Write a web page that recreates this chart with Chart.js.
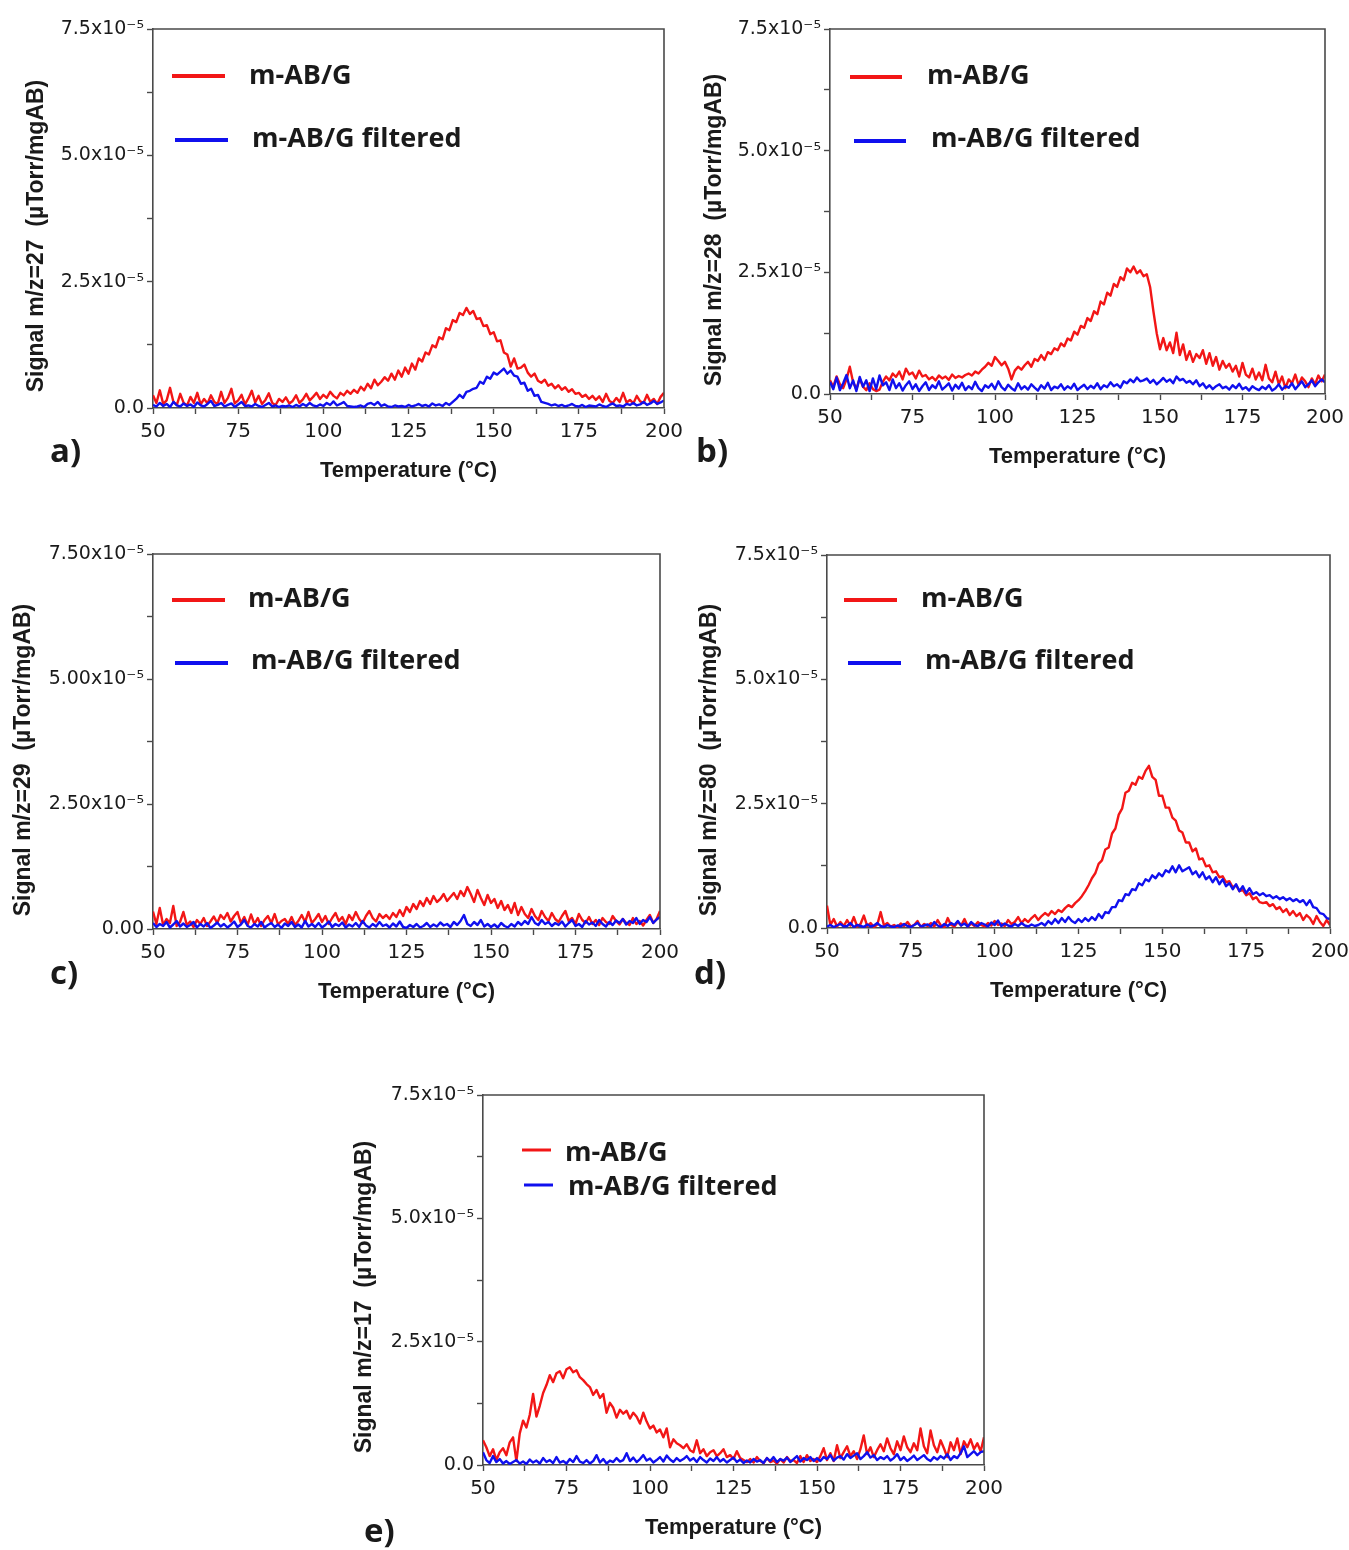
<!DOCTYPE html>
<html>
<head>
<meta charset="utf-8">
<title>TPD-MS signals of m-AB/G</title>
<script src="https://cdn.jsdelivr.net/npm/chart.js@4.4.1/dist/chart.umd.min.js"></script>
<style>
  html, body { margin: 0; padding: 0; background: #fff; overflow: hidden; }
  #page { position: relative; width: 1349px; height: 1550px; overflow: hidden; background: #fff; }
  #page canvas { position: absolute; }
</style>
</head>
<body>
<div id="page">
  <canvas id="panel-a"></canvas>
  <canvas id="panel-b"></canvas>
  <canvas id="panel-c"></canvas>
  <canvas id="panel-d"></canvas>
  <canvas id="panel-e"></canvas>
</div>
<script>
// Temperature grid (°C)
const tempC = [
  50,51,52,53,54,55,56,57,58,59,
  60,61,62,63,64,65,66,67,68,69,
  70,71,72,73,74,75,76,77,78,79,
  80,81,82,83,84,85,86,87,88,89,
  90,91,92,93,94,95,96,97,98,99,
  100,101,102,103,104,105,106,107,108,109,
  110,111,112,113,114,115,116,117,118,119,
  120,121,122,123,124,125,126,127,128,129,
  130,131,132,133,134,135,136,137,138,139,
  140,141,142,143,144,145,146,147,148,149,
  150,151,152,153,154,155,156,157,158,159,
  160,161,162,163,164,165,166,167,168,169,
  170,171,172,173,174,175,176,177,178,179,
  180,181,182,183,184,185,186,187,188,189,
  190,191,192,193,194,195,196,197,198,199,
  200
];

// Signals in units of 1e-6 µTorr/mgAB

// m/z = 27
const mz27Raw = [
  2.5,1.0,3.5,0.8,1.5,4.0,1.2,0.6,2.8,1.0,
  0.5,2.2,1.0,3.0,0.7,1.8,0.9,2.5,1.2,0.8,
  3.2,1.0,2.0,3.8,0.9,1.5,2.6,0.7,1.9,3.4,
  1.1,2.4,0.8,1.6,2.9,1.0,0.6,1.8,1.2,2.1,
  0.9,1.4,2.5,1.0,1.7,2.8,1.5,2.2,3.0,1.8,
  2.6,2.0,3.2,2.4,1.9,3.0,2.5,3.4,2.8,3.6,
  3.0,4.2,3.5,4.8,3.9,5.6,4.5,5.2,6.1,5.4,
  6.8,5.6,7.4,6.2,8.0,6.8,8.8,7.6,9.8,9.2,
  11.0,10.6,12.4,12.0,14.0,13.6,15.8,15.4,17.4,17.0,
  18.8,18.4,19.8,18.6,19.2,17.6,17.8,16.2,16.4,14.6,
  15.0,13.2,13.4,11.0,10.6,8.2,9.8,7.8,8.0,8.6,
  7.0,6.2,6.8,5.4,5.0,5.6,4.4,4.8,3.9,4.5,
  3.6,4.1,3.2,3.7,2.8,3.0,2.2,2.6,1.8,2.4,
  1.6,2.3,1.2,2.8,1.4,1.0,2.0,1.2,3.0,1.1,
  1.6,0.9,2.4,1.3,1.0,2.6,1.2,1.8,0.8,2.2,
  3.0
];
const mz27Filtered = [
  0.6,0.3,1.0,0.4,0.8,0.2,1.2,0.5,0.3,0.9,
  0.4,0.7,0.2,1.1,0.5,0.3,0.8,1.4,0.4,0.6,
  1.0,0.3,0.6,0.9,0.2,0.7,1.2,0.4,0.5,0.3,
  0.8,0.4,0.2,0.6,1.0,0.3,0.5,0.2,0.4,0.3,
  0.5,0.2,0.6,0.3,0.8,0.4,1.0,0.5,0.3,0.7,
  0.4,1.0,0.6,1.3,0.5,0.8,1.2,0.4,0.3,0.2,
  0.3,0.5,0.2,0.8,1.0,0.6,1.2,0.4,0.7,0.3,
  0.2,0.5,0.3,0.4,0.2,0.6,0.3,0.5,0.8,0.4,
  0.6,0.3,0.9,0.5,0.7,0.4,1.0,0.6,1.2,1.8,
  2.6,2.0,3.2,3.4,3.8,4.0,5.2,4.8,6.2,5.8,
  7.0,6.6,7.2,7.8,6.8,7.4,6.4,6.2,4.8,5.0,
  3.4,3.8,2.4,2.6,1.2,1.0,0.8,0.5,0.7,0.4,
  0.6,0.3,0.5,0.8,0.4,0.3,0.6,0.2,0.5,0.4,
  0.3,0.7,0.4,0.2,0.6,0.9,0.4,0.5,0.3,0.8,
  0.6,1.0,0.5,0.7,1.2,0.6,0.9,1.4,0.8,1.1,
  1.5
];

// m/z = 28
const mz28Raw = [
  2.8,1.5,3.6,2.0,1.2,3.0,5.6,2.4,1.0,3.2,
  1.5,0.8,2.2,1.0,0.6,0.9,2.5,3.6,2.8,4.2,
  3.5,4.6,3.0,5.2,4.0,4.4,3.2,4.8,3.6,3.9,
  3.0,3.5,2.8,3.8,3.2,3.6,2.9,4.0,3.3,3.7,
  3.4,3.9,4.2,3.8,4.6,4.2,5.0,5.6,6.4,5.8,
  7.6,6.8,5.9,6.6,5.2,3.0,4.8,5.6,5.0,5.9,
  6.6,5.6,7.2,6.8,8.0,7.0,8.6,8.2,9.4,9.0,
  10.4,9.8,11.4,11.0,12.8,12.2,14.0,13.6,15.6,15.0,
  17.0,16.4,19.0,18.4,20.8,20.2,22.6,22.0,24.0,23.4,
  25.8,25.0,26.2,24.8,25.4,24.2,24.6,22.0,17.0,12.5,
  9.2,11.5,9.0,10.6,8.4,12.6,8.0,10.2,7.0,8.8,
  6.6,8.2,7.4,9.0,6.2,8.4,5.8,7.6,5.0,6.8,
  5.4,6.2,4.6,5.8,3.6,6.4,4.0,3.4,5.2,3.0,
  4.4,2.8,6.0,3.2,2.4,4.6,2.0,3.6,1.2,3.0,
  2.2,4.0,1.8,3.4,2.6,1.4,3.2,2.0,3.8,2.6,
  4.0
];
const mz28Filtered = [
  2.5,1.0,3.4,0.8,2.2,3.9,1.2,2.8,0.6,3.5,
  1.5,2.8,0.6,3.2,1.0,3.8,1.8,2.4,0.8,3.0,
  1.2,2.2,0.7,1.8,2.6,1.0,2.0,0.6,1.6,2.4,
  0.8,1.8,1.2,2.6,0.9,1.5,2.2,0.7,1.9,1.1,
  2.3,0.8,1.6,1.0,2.5,1.2,0.6,1.8,1.3,2.1,
  1.0,2.6,1.4,0.8,1.9,1.2,0.7,2.2,1.0,1.6,
  0.9,2.0,1.3,0.7,1.8,1.1,2.3,0.8,1.5,1.2,
  2.0,0.9,1.6,1.1,2.1,0.8,1.4,1.9,1.0,1.7,
  1.2,2.2,1.0,1.8,1.4,2.4,1.6,2.0,1.3,2.6,
  2.2,3.0,2.4,3.4,2.6,2.8,3.2,2.3,2.9,2.0,
  2.6,3.3,2.5,3.0,2.2,3.6,2.8,3.1,2.3,2.7,
  2.0,2.8,1.6,2.2,1.2,1.8,1.0,1.6,2.0,1.2,
  1.5,0.9,1.8,1.2,2.1,1.0,1.4,0.7,1.6,1.1,
  0.8,1.5,1.0,1.8,0.7,1.2,2.0,0.9,1.6,1.3,
  2.2,1.0,1.8,2.6,1.4,2.0,2.8,1.6,2.4,3.0,
  2.4
];

// m/z = 29
const mz29Raw = [
  3.5,1.0,4.2,0.8,2.0,1.2,4.6,0.6,1.4,3.4,
  0.8,1.5,0.4,1.8,1.0,2.2,0.6,1.5,2.5,1.2,
  2.8,2.0,3.2,1.5,2.6,3.4,1.2,2.4,0.8,2.9,
  1.0,2.2,0.6,1.8,2.6,1.2,3.0,0.9,1.6,2.0,
  1.0,2.4,0.8,1.6,2.8,1.4,3.4,1.2,2.0,3.0,
  1.4,2.6,1.0,2.2,3.2,1.6,2.4,1.0,2.8,1.8,
  3.4,2.0,1.2,2.6,3.6,2.2,1.5,3.0,2.2,2.8,
  2.0,3.2,2.4,3.8,2.6,4.4,3.4,5.0,4.0,5.6,
  4.6,6.2,5.0,6.6,5.4,6.0,7.0,5.6,6.4,7.2,
  6.0,7.6,6.6,8.4,7.0,5.4,7.8,6.2,4.8,6.8,
  5.2,6.0,4.2,5.6,3.8,4.8,3.2,5.2,2.8,4.4,
  3.0,2.2,4.0,2.6,1.8,3.6,2.4,1.6,3.2,2.0,
  1.4,2.6,3.6,1.6,2.2,1.0,3.0,1.8,1.2,2.4,
  1.0,1.8,0.8,2.2,1.4,1.0,2.6,1.6,0.9,2.0,
  1.2,0.8,2.2,1.0,1.6,0.7,1.8,2.8,1.2,2.0,
  3.6
];
const mz29Filtered = [
  1.2,0.4,1.0,0.6,1.4,0.3,0.9,1.6,0.5,1.1,
  0.4,0.8,1.4,0.3,1.0,0.5,1.2,0.2,0.7,1.3,
  0.5,1.0,0.3,0.8,1.5,0.4,0.9,1.8,0.6,0.3,
  1.0,0.5,1.4,0.3,0.8,1.2,0.4,0.9,0.2,1.1,
  0.6,1.4,0.4,0.9,0.3,1.6,0.5,1.0,0.4,1.2,
  0.3,0.8,1.5,0.4,1.0,0.6,1.3,0.3,0.9,0.5,
  1.2,0.4,1.6,0.7,0.3,1.0,0.5,1.4,0.6,0.9,
  0.3,1.1,0.5,1.5,0.4,0.2,0.8,0.4,1.0,0.3,
  0.6,1.2,0.4,0.9,0.5,1.3,0.7,1.0,0.4,1.4,
  0.8,1.6,2.8,1.0,0.6,1.4,0.8,1.8,0.5,1.0,
  0.4,0.9,0.3,1.2,0.6,0.3,1.0,0.5,1.4,0.8,
  1.6,1.0,2.4,1.2,0.8,1.8,1.0,1.4,0.6,1.2,
  0.8,1.5,0.5,1.2,1.8,0.6,1.0,0.4,1.6,0.9,
  1.3,0.6,1.8,1.0,0.5,1.4,0.8,1.7,1.2,2.0,
  0.9,1.6,1.2,2.2,1.0,1.8,1.4,2.4,1.2,1.9,
  2.4
];

// m/z = 80
const mz80Raw = [
  4.5,0.6,1.8,0.3,1.2,0.4,1.6,0.5,2.2,0.3,
  0.8,2.5,0.4,1.0,0.2,0.7,3.2,0.5,1.0,0.3,
  0.6,0.2,0.9,0.4,1.2,0.3,0.6,1.4,0.2,0.8,
  0.4,1.0,0.3,1.6,0.5,0.2,2.0,0.6,0.3,1.2,
  0.5,1.8,0.3,0.9,0.4,1.2,0.6,0.3,1.0,0.5,
  1.4,0.6,0.9,0.4,1.6,0.8,1.2,2.2,1.0,1.8,
  1.2,2.0,2.6,1.6,2.4,3.0,2.5,3.4,2.8,3.6,
  3.2,4.0,4.6,4.2,5.0,5.6,6.4,7.4,8.6,10.0,
  11.0,12.9,13.6,15.8,16.2,19.0,20.0,22.8,24.0,27.2,
  27.6,29.2,28.8,30.4,30.0,31.6,32.6,30.4,29.8,26.6,
  26.6,24.2,24.2,22.2,21.6,19.6,19.2,17.2,17.2,15.4,
  16.0,13.8,14.0,12.4,12.6,11.2,11.4,10.2,10.4,9.2,
  9.4,8.2,8.6,7.4,7.6,6.6,7.0,5.8,6.2,5.2,
  5.0,5.2,4.4,4.8,3.8,4.2,3.2,3.8,2.6,3.4,
  2.4,3.0,1.6,2.6,2.0,0.8,2.4,1.2,0.4,1.6,
  0.6
];
const mz80Filtered = [
  0.3,0.6,0.2,0.5,0.8,0.3,0.4,1.0,0.2,0.6,
  0.4,0.2,0.7,0.3,0.5,1.0,0.4,0.2,0.6,0.3,
  0.2,0.5,0.3,0.8,0.4,0.2,0.6,1.0,0.3,0.5,
  0.7,0.3,1.2,0.5,0.2,0.8,0.4,1.0,0.6,1.4,
  0.5,0.9,0.3,1.2,0.6,0.4,1.0,0.7,0.3,1.1,
  0.6,1.5,0.4,0.9,0.5,0.3,0.8,0.4,1.0,0.5,
  0.3,0.7,0.4,0.6,1.0,0.5,1.4,0.8,1.8,1.0,
  2.0,1.2,2.2,1.4,1.0,1.8,1.2,2.0,1.4,2.2,
  1.6,2.8,2.0,3.2,3.0,4.2,4.2,5.6,5.4,6.8,
  6.6,7.8,7.6,9.0,8.6,9.8,9.4,10.6,10.0,11.0,
  10.4,11.6,11.2,12.4,11.2,12.6,11.4,11.8,12.2,10.8,
  11.4,10.2,11.2,9.8,10.4,9.2,10.2,8.8,9.8,8.4,
  9.0,7.8,8.8,7.4,8.4,7.0,8.0,6.8,7.2,6.6,
  7.0,6.4,6.6,6.0,6.4,5.8,6.2,5.6,6.0,5.4,
  5.8,5.2,5.6,4.6,5.6,4.2,4.0,3.0,2.8,2.0,
  1.8
];

// m/z = 17
const mz17Raw = [
  5.0,3.6,1.8,3.2,1.0,2.6,3.4,2.0,4.6,5.6,
  0.8,6.4,9.0,7.6,10.2,14.4,9.8,12.0,14.6,16.2,
  18.2,16.8,18.6,19.0,17.6,19.4,19.8,18.8,19.2,17.8,
  17.2,16.4,15.8,14.2,15.2,13.6,14.4,10.6,12.6,11.6,
  9.6,11.2,10.4,11.0,9.4,10.6,9.8,8.4,10.6,8.8,
  7.4,8.0,6.6,7.2,5.6,7.4,3.6,5.2,4.4,4.0,
  3.4,4.2,3.0,2.6,5.0,2.4,3.2,1.8,2.6,3.0,
  1.8,2.4,3.2,1.6,2.0,1.2,2.8,1.4,1.0,0.6,
  1.2,0.5,1.6,0.8,0.4,1.4,0.6,0.9,0.3,1.2,
  0.5,1.6,0.8,1.0,0.4,1.8,0.6,2.0,0.8,1.2,
  0.6,1.8,3.4,1.0,2.4,0.8,4.0,1.4,2.6,3.8,
  1.8,2.8,1.2,3.2,6.0,2.2,3.6,1.6,3.0,4.2,
  2.8,5.4,3.4,2.2,4.8,3.0,5.8,3.6,2.6,4.4,
  3.0,7.4,3.8,2.4,7.0,4.0,2.6,5.0,3.4,1.6,
  4.6,3.0,5.4,2.2,4.8,3.6,5.2,3.2,4.4,2.8,
  5.6
];
const mz17Filtered = [
  2.6,1.0,0.4,1.8,0.6,1.2,0.3,0.8,0.2,0.6,
  1.0,0.3,0.7,0.2,1.1,0.5,0.9,0.3,1.4,0.6,
  1.0,0.4,1.6,0.5,0.8,0.3,1.2,0.6,1.8,0.7,
  0.4,1.0,0.3,0.8,2.0,0.5,1.2,0.3,0.9,0.6,
  1.4,0.7,1.0,2.4,0.8,1.5,0.6,1.2,2.0,0.9,
  1.3,0.5,1.0,1.6,0.7,1.9,1.1,0.6,1.4,0.8,
  1.2,1.8,0.9,1.4,0.6,1.6,1.0,0.5,1.3,0.8,
  1.6,0.7,1.2,0.5,1.0,1.5,0.6,1.1,0.4,0.9,
  0.5,1.2,0.7,1.0,0.4,1.4,0.8,1.6,0.6,1.2,
  0.9,1.5,0.6,1.2,1.8,0.7,1.4,1.0,1.6,0.8,
  1.4,0.8,1.6,1.2,2.0,0.9,1.5,1.8,1.1,2.2,
  1.4,1.9,2.4,1.2,1.8,2.6,1.5,2.0,1.0,1.6,
  1.2,1.8,0.9,1.4,2.2,1.0,1.6,0.8,1.3,1.9,
  1.0,1.5,2.0,1.2,0.8,1.6,1.1,1.8,1.3,2.2,
  1.0,1.8,1.4,2.4,3.8,1.6,2.2,2.8,2.0,2.6,
  2.8
];

const seriesNames = ['m-AB/G', 'm-AB/G filtered'];

// Axis ticks (y values in the same 1e-6 units as the signals)
const yTickValues = [0, 25, 50, 75];
const yTickLabels = ['0.0', '2.5x10\u207B\u2075', '5.0x10\u207B\u2075', '7.5x10\u207B\u2075'];
const yTickLabelsWide = ['0.00', '2.50x10\u207B\u2075', '5.00x10\u207B\u2075', '7.50x10\u207B\u2075'];
const xTickValues = [50, 75, 100, 125, 150, 175, 200];
const xTickLabels = ['50', '75', '100', '125', '150', '175', '200'];

const xTitle = 'Temperature (\u00B0C)';

const RED = '#f21616';
const BLUE = '#1010ee';
const AXIS = '#4a4a4a';
const TEXT = '#1a1a1a';

// Panel layout: canvas box, plot area, and decoration anchors (page coordinates)
const panels = [
  { id: 'panel-a', raw: mz27Raw, filt: mz27Filtered, yLabels: yTickLabels,
    yTitle: 'Signal m/z=27  (\u00B5Torr/mgAB)', letter: 'a)',
    box: { left: 0, top: 0, w: 690, h: 500 },
    area: { left: 153, right: 664, top: 29, bottom: 408 },
    xTitleY: 471, yTitlePos: [37, 236], letterPos: [50, 453],
    legend: [ { x1: 172, x2: 225, y: 76, tx: 249, ty: 84 },
              { x1: 175, x2: 228, y: 140, tx: 252, ty: 147 } ], legendLW: 4 },
  { id: 'panel-b', raw: mz28Raw, filt: mz28Filtered, yLabels: yTickLabels,
    yTitle: 'Signal m/z=28  (\u00B5Torr/mgAB)', letter: 'b)',
    box: { left: 690, top: 0, w: 680, h: 500 },
    area: { left: 830, right: 1325, top: 29, bottom: 394 },
    xTitleY: 457, yTitlePos: [715, 230], letterPos: [696, 453],
    legend: [ { x1: 850, x2: 902, y: 77, tx: 927, ty: 84 },
              { x1: 854, x2: 906, y: 141, tx: 931, ty: 147 } ], legendLW: 4 },
  { id: 'panel-c', raw: mz29Raw, filt: mz29Filtered, yLabels: yTickLabelsWide,
    yTitle: 'Signal m/z=29  (\u00B5Torr/mgAB)', letter: 'c)',
    box: { left: 0, top: 520, w: 690, h: 500 },
    area: { left: 153, right: 660, top: 554, bottom: 929 },
    xTitleY: 992, yTitlePos: [24, 760], letterPos: [50, 975],
    legend: [ { x1: 172, x2: 225, y: 600, tx: 248, ty: 607 },
              { x1: 175, x2: 228, y: 663, tx: 251, ty: 669 } ], legendLW: 4 },
  { id: 'panel-d', raw: mz80Raw, filt: mz80Filtered, yLabels: yTickLabels,
    yTitle: 'Signal m/z=80  (\u00B5Torr/mgAB)', letter: 'd)',
    box: { left: 690, top: 520, w: 680, h: 500 },
    area: { left: 827, right: 1330, top: 555, bottom: 928 },
    xTitleY: 991, yTitlePos: [710, 760], letterPos: [694, 975],
    legend: [ { x1: 844, x2: 897, y: 600, tx: 921, ty: 607 },
              { x1: 848, x2: 901, y: 663, tx: 925, ty: 669 } ], legendLW: 4 },
  { id: 'panel-e', raw: mz17Raw, filt: mz17Filtered, yLabels: yTickLabels,
    yTitle: 'Signal m/z=17  (\u00B5Torr/mgAB)', letter: 'e)',
    box: { left: 330, top: 1060, w: 700, h: 490 },
    area: { left: 483, right: 984, top: 1095, bottom: 1465 },
    xTitleY: 1528, yTitlePos: [365, 1297], letterPos: [364, 1533],
    legend: [ { x1: 522, x2: 551, y: 1150, tx: 565, ty: 1161 },
              { x1: 524, x2: 553, y: 1185, tx: 568, ty: 1195 } ], legendLW: 3 }
];

// Frame, rotated y title, in-plot legend and panel letter
const panelDecor = {
  id: 'panelDecor',
  afterDraw(chart, args, opts) {
    const { ctx, chartArea: a } = chart;
    const ox = opts.box.left, oy = opts.box.top;
    ctx.save();
    ctx.strokeStyle = AXIS;
    ctx.lineWidth = 1.6;
    ctx.beginPath();
    ctx.moveTo(a.left, a.top);
    ctx.lineTo(a.right, a.top);
    ctx.lineTo(a.right, a.bottom);
    ctx.stroke();

    ctx.fillStyle = TEXT;
    ctx.save();
    ctx.translate(opts.yTitlePos[0] - ox, opts.yTitlePos[1] - oy);
    ctx.rotate(-Math.PI / 2);
    ctx.font = 'bold 23px "Liberation Sans", Arial, sans-serif';
    ctx.textAlign = 'center';
    ctx.textBaseline = 'middle';
    ctx.fillText(opts.yTitle, 0, 0);
    ctx.restore();

    ctx.font = 'bold 27px "Open Sans", "Noto Sans", sans-serif';
    ctx.textAlign = 'left';
    ctx.textBaseline = 'alphabetic';
    chart.data.datasets.forEach((ds, i) => {
      const it = opts.legend[i];
      ctx.strokeStyle = ds.borderColor;
      ctx.lineWidth = opts.legendLW;
      ctx.beginPath();
      ctx.moveTo(it.x1 - ox, it.y - oy);
      ctx.lineTo(it.x2 - ox, it.y - oy);
      ctx.stroke();
      ctx.fillStyle = TEXT;
      ctx.fillText(ds.label, it.tx - ox, it.ty - oy);
    });

    ctx.font = 'bold 33px "Open Sans", "Noto Sans", sans-serif';
    ctx.textBaseline = 'middle';
    ctx.fillText(opts.letter, opts.letterPos[0] - ox, opts.letterPos[1] - oy);
    ctx.restore();
  }
};

const TITLE_FONT = { family: '"Liberation Sans", Arial, sans-serif', size: 22, weight: 'bold', lineHeight: 1.2 };

panels.forEach(p => {
  const canvas = document.getElementById(p.id);
  canvas.width = p.box.w;
  canvas.height = p.box.h;
  canvas.style.left = p.box.left + 'px';
  canvas.style.top = p.box.top + 'px';

  const yAxisWidth = p.area.left - p.box.left;
  const xAxisHeight = (p.box.top + p.box.h) - p.area.bottom;
  const titleHalf = TITLE_FONT.size * TITLE_FONT.lineHeight / 2;
  const xTitlePad = (p.box.top + p.box.h) - p.xTitleY - titleHalf;

  new Chart(canvas, {
    type: 'line',
    data: {
      labels: tempC,
      datasets: [
        { label: seriesNames[0], data: p.raw, borderColor: RED, borderWidth: 2.4,
          pointRadius: 0, tension: 0, borderJoinStyle: 'round', order: 2 },
        { label: seriesNames[1], data: p.filt, borderColor: BLUE, borderWidth: 2.4,
          pointRadius: 0, tension: 0, borderJoinStyle: 'round', order: 1 }
      ]
    },
    options: {
      responsive: false,
      animation: false,
      devicePixelRatio: 1,
      layout: {
        padding: {
          left: 0,
          top: p.area.top - p.box.top,
          right: (p.box.left + p.box.w) - p.area.right,
          bottom: 0
        }
      },
      plugins: {
        legend: { display: false },
        tooltip: { enabled: false },
        panelDecor: {
          box: p.box, yTitle: p.yTitle, yTitlePos: p.yTitlePos,
          letter: p.letter, letterPos: p.letterPos,
          legend: p.legend, legendLW: p.legendLW
        }
      },
      scales: {
        x: {
          type: 'linear',
          min: 50, max: 200,
          afterFit(scale) { scale.height = xAxisHeight; },
          grid: { display: true, drawOnChartArea: false, drawTicks: true, tickLength: 6,
                  color: AXIS, tickColor: AXIS, tickWidth: 1.4 },
          border: { display: true, color: AXIS, width: 1.6 },
          ticks: {
            stepSize: 12.5, autoSkip: false, maxRotation: 0, padding: 6,
            color: TEXT,
            font: { family: '"DejaVu Sans", sans-serif', size: 20 },
            callback(value) {
              const i = xTickValues.indexOf(value);
              return i >= 0 ? xTickLabels[i] : '';
            }
          },
          title: { display: true, text: xTitle, color: TEXT, font: TITLE_FONT,
                   padding: { top: 0, bottom: xTitlePad } }
        },
        y: {
          type: 'linear',
          min: 0, max: 75,
          afterFit(scale) { scale.width = yAxisWidth; },
          grid: { display: true, drawOnChartArea: false, drawTicks: true, tickLength: 6,
                  color: AXIS, tickColor: AXIS, tickWidth: 1.4 },
          border: { display: true, color: AXIS, width: 1.6 },
          ticks: {
            stepSize: 12.5, autoSkip: false, padding: 3,
            color: TEXT,
            font: { family: '"DejaVu Sans", sans-serif', size: 19 },
            callback(value) {
              const i = yTickValues.indexOf(value);
              return i >= 0 ? p.yLabels[i] : '';
            }
          }
        }
      }
    },
    plugins: [panelDecor]
  });
});
</script>
</body>
</html>
